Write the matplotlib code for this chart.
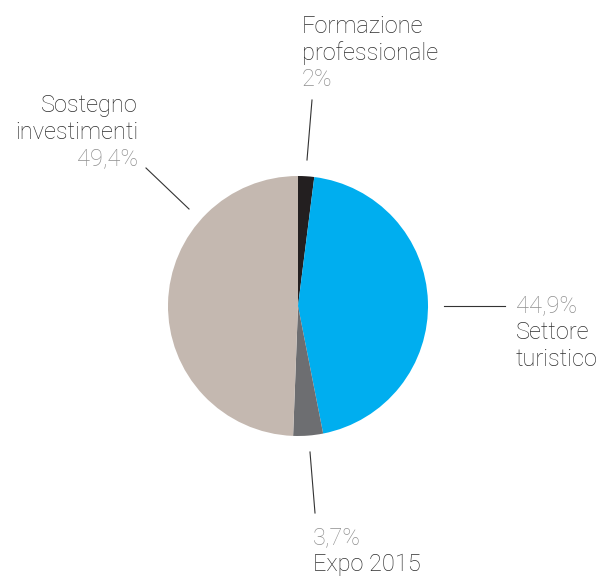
import matplotlib.pyplot as plt

labels = ['Formazione\nprofessionale', 'Settore\nturistico', 'Expo 2015', 'Sostegno\ninvestimenti']
values = [2.0, 44.9, 3.7, 49.4]
pct_text = ['2%', '44,9%', '3,7%', '49,4%']
colors = ['#231f20', '#00aeef', '#6d6e71', '#c4b8b0']

W, H = 605, 576
plt.rcParams['font.family'] = ['Roboto', 'DejaVu Sans']

fig = plt.figure(figsize=(W / 100, H / 100), dpi=100)
ax = fig.add_axes([0, 0, 1, 1])


def Y(y):
    return H - y


ax.pie(values, colors=colors, startangle=90, counterclock=False,
       center=(298, Y(306)), radius=130, frame=True,
       wedgeprops=dict(linewidth=0))
ax.set_xlim(0, W)
ax.set_ylim(0, H)
ax.set_aspect('equal')
ax.axis('off')

dark = '#2e2e2e'
grey = '#8f8f8f'
fs = 17
lw = 0.8

# leader lines
ax.plot([312, 307], [Y(100), Y(160)], color='#333333', lw=lw)
ax.plot([146, 189], [Y(168), Y(209)], color='#333333', lw=lw)
ax.plot([444, 505], [Y(306), Y(306)], color='#333333', lw=lw)
ax.plot([310, 315], [Y(452), Y(513)], color='#333333', lw=lw)

txt = dict(fontsize=fs, fontweight='light', va='baseline')
# Formazione professionale
ax.text(302, Y(33), 'Formazione', color=dark, ha='left', **txt)
ax.text(302, Y(60), 'professionale', color=dark, ha='left', **txt)
ax.text(302, Y(86), pct_text[0], color=grey, ha='left', **txt)
# Sostegno investimenti
ax.text(138, Y(112), 'Sostegno', color=dark, ha='right', **txt)
ax.text(138, Y(139), 'investimenti', color=dark, ha='right', **txt)
ax.text(138, Y(165), pct_text[3], color=grey, ha='right', **txt)
# Settore turistico
ax.text(516, Y(312), pct_text[1], color=grey, ha='left', **txt)
ax.text(516, Y(339), 'Settore', color=dark, ha='left', **txt)
ax.text(516, Y(366), 'turistico', color=dark, ha='left', **txt)
# Expo 2015
ax.text(313, Y(544), pct_text[2], color=grey, ha='left', **txt)
ax.text(313, Y(571), 'Expo 2015', color=dark, ha='left', **txt)

fig.savefig('out.png', dpi=100)
